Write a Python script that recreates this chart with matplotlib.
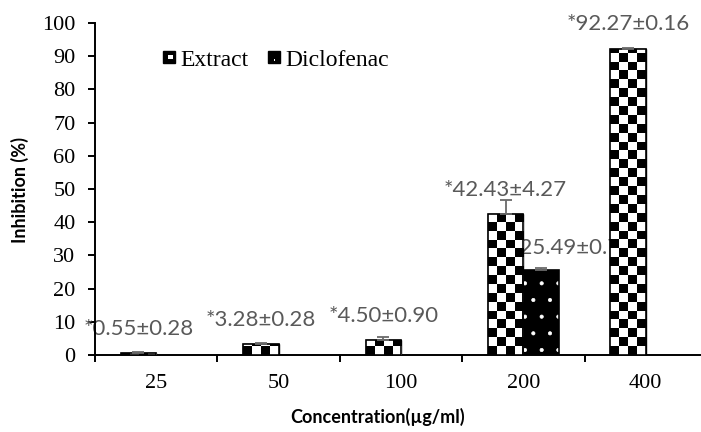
import numpy as np
import matplotlib
matplotlib.use("Agg")
import matplotlib.pyplot as plt
from matplotlib.patches import Rectangle
from matplotlib.legend_handler import HandlerBase

# data
concentrations = ["25", "50", "100", "200", "400"]
extract_mean = [0.55, 3.28, 4.50, 42.43, 92.27]
extract_sd = [0.28, 0.28, 0.90, 4.27, 0.16]
diclofenac_mean = [np.nan, np.nan, np.nan, 25.49, np.nan]
diclofenac_sd = [np.nan, np.nan, np.nan, 0.74, np.nan]

plt.rcParams["font.family"] = ["Liberation Serif", "DejaVu Sans"]
plt.rcParams["hatch.linewidth"] = 0.5
sans = ["Lato", "DejaVu Sans"]
label_grey = "#595959"
err_grey = "#6a6a6a"

fig = plt.figure(figsize=(7.01, 4.32), dpi=100)
ax = fig.add_axes([95 / 701, 77 / 432, 612 / 701, 332 / 432])
ax.set_xlim(-0.5, 4.5)
ax.set_ylim(0, 100)

x = np.arange(len(concentrations))
bar_w = 0.29
ext_x = x - bar_w / 2
dic_x = x + bar_w / 2

# extract bars: checkerboard fill clipped to each bar
ext_bars = ax.bar(ext_x, extract_mean, bar_w, facecolor="white",
                  edgecolor="black", linewidth=1, zorder=3)
px_y = ax.transData.transform((0, 1))[1] - ax.transData.transform((0, 0))[1]
px_x = ax.transData.transform((1, 0))[0] - ax.transData.transform((0, 0))[0]
n_cols = 4
sq_y = (bar_w * px_x / n_cols) / px_y
for bar in ext_bars:
    x0 = bar.get_x()
    h = bar.get_height()
    n_rows = int(np.ceil(h / sq_y)) + 1
    ii, jj = np.indices((n_rows, n_cols))
    checker = ((ii + jj) % 2).astype(float)
    im = ax.imshow(checker, cmap="gray", vmin=0, vmax=1, origin="lower",
                   interpolation="nearest", aspect="auto",
                   extent=(x0, x0 + bar_w, 0, n_rows * sq_y), zorder=3.5)
    im.set_clip_path(bar)
ax.bar(ext_x, extract_mean, bar_w, facecolor="none", edgecolor="black",
       linewidth=1.2, zorder=4)

# diclofenac bars: black with white dots
dic_mask = ~np.isnan(diclofenac_mean)
dic_pos = dic_x[dic_mask]
dic_vals = np.array(diclofenac_mean)[dic_mask]
dic_err = np.array(diclofenac_sd)[dic_mask]
ax.bar(dic_pos, dic_vals, bar_w, facecolor="black", edgecolor="white",
       hatch=".", linewidth=0, zorder=3)
ax.bar(dic_pos, dic_vals, bar_w, facecolor="none", edgecolor="black",
       linewidth=1.2, zorder=4)

# error bars (upper side)
ax.errorbar(ext_x, extract_mean, yerr=[np.zeros(len(extract_sd)), extract_sd],
            fmt="none", ecolor=err_grey, elinewidth=1.3, capsize=4.5,
            capthick=1.3, zorder=5)
ax.errorbar(dic_pos, dic_vals, yerr=[np.zeros(len(dic_err)), dic_err],
            fmt="none", ecolor=err_grey, elinewidth=1.3, capsize=4.5,
            capthick=1.3, zorder=5)

# value labels
for xi, m, s in zip(ext_x, extract_mean, extract_sd):
    ax.annotate(f"*{m:.2f}±{s:.2f}", (xi, m), xytext=(0, 17.5),
                textcoords="offset points", ha="center", va="center",
                color=label_grey, fontsize=16, family=sans, zorder=2)
for xi, m, s in zip(dic_pos, dic_vals, dic_err):
    ax.annotate(f"*{m:.2f}±{s:.2f}", (xi, m), xytext=(22, 16),
                textcoords="offset points", ha="center", va="center",
                color=label_grey, fontsize=16, family=sans, zorder=2)

# axes styling
for side in ["top", "right"]:
    ax.spines[side].set_visible(False)
for side in ["left", "bottom"]:
    ax.spines[side].set_linewidth(1.4)

ax.set_yticks(range(0, 101, 10))
ax.tick_params(axis="y", direction="out", length=5, width=1.4, pad=9,
               labelsize=16)
ax.set_xticks(np.arange(-0.5, 5, 1))
ax.set_xticklabels([])
ax.set_xticks(x, minor=True)
ax.set_xticklabels(concentrations, minor=True)
ax.tick_params(axis="x", which="major", direction="out", length=5, width=1.4)
ax.tick_params(axis="x", which="minor", length=0, pad=14, labelsize=16)

ax.set_xlabel("Concentration(µg/ml)", fontsize=13, fontweight="bold", family=sans)
ax.xaxis.set_label_coords((378 - 95) / 612, (355 - 417) / 332)
ax.xaxis.label.set_va("center")
ax.set_ylabel("Inhibition (%)", fontsize=13, fontweight="bold", family=sans)
ax.yaxis.set_label_coords((19.5 - 95) / 612, (355 - 190) / 332)
ax.yaxis.label.set_va("center")


# legend with small custom swatches
class ExtractSwatch(HandlerBase):
    def create_artists(self, legend, orig_handle, xd, yd, w, h, fontsize, trans):
        s = min(w, h)
        x0, y0 = -xd + (w - s) / 2, -yd + (h - s) / 2
        outer = Rectangle((x0, y0), s, s, facecolor="black", edgecolor="black", transform=trans)
        inner = Rectangle((x0 + 0.45 * s, y0 + 0.3 * s), 0.38 * s, 0.42 * s,
                          facecolor="white", edgecolor="none", transform=trans)
        return [outer, inner]


class DiclofenacSwatch(HandlerBase):
    def create_artists(self, legend, orig_handle, xd, yd, w, h, fontsize, trans):
        s = min(w, h)
        x0, y0 = -xd + (w - s) / 2, -yd + (h - s) / 2
        outer = Rectangle((x0, y0), s, s, facecolor="black", edgecolor="black", transform=trans)
        dot = Rectangle((x0 + 0.5 * s, y0 + 0.2 * s), 0.15 * s, 0.15 * s,
                        facecolor="white", edgecolor="none", transform=trans)
        return [outer, dot]


h_ext = Rectangle((0, 0), 1, 1)
h_dic = Rectangle((0, 0), 1, 1)
ax.legend([h_ext, h_dic], ["Extract", "Diclofenac"],
          handler_map={h_ext: ExtractSwatch(), h_dic: DiclofenacSwatch()},
          ncol=2, frameon=False, fontsize=17, handlelength=0.5, handleheight=0.5,
          handletextpad=0.25, columnspacing=0.8, loc="center left",
          bbox_to_anchor=((163 - 95) / 612, (355 - 60) / 332),
          borderpad=0, borderaxespad=0)

ax.set_xlim(-0.5, 4.5)
ax.set_ylim(0, 100)

fig.savefig("out.png", dpi=100)
